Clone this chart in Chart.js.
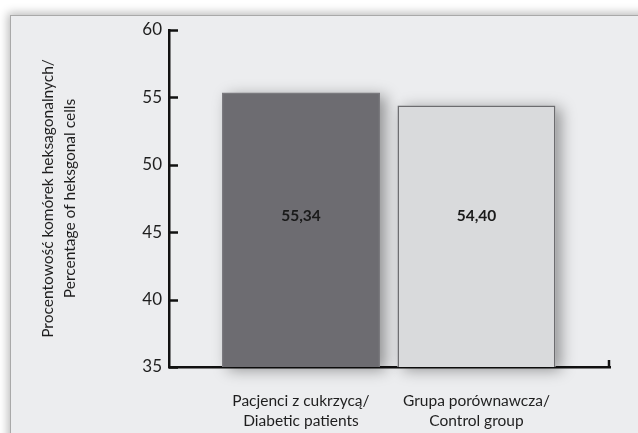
<!DOCTYPE html>
<html>
<head>
<meta charset="utf-8">
<script src="https://cdn.jsdelivr.net/npm/chart.js@4.4.1/dist/chart.umd.min.js"></script>
<style>
  html, body { margin: 0; padding: 0; background: #fff; overflow: hidden; }
  .panel {
    position: absolute; left: 10px; top: 15px; width: 660px; height: 440px;
    background: #ecedef;
    border-top: 1px solid #a9a9a9; border-left: 1px solid #a9a9a9;
    box-shadow: -2px -2px 9px rgba(0, 0, 0, 0.28);
  }
  #wrap { position: absolute; left: 0; top: 0; width: 638px; height: 433px; }
</style>
</head>
<body>
<div class="panel"></div>
<div id="wrap"><canvas id="chart"></canvas></div>
<script>
// bar data
const categories = [
  ['Pacjenci z cukrzycą/', 'Diabetic patients'],
  ['Grupa porównawcza/', 'Control group']
];
const positions = [1, 2];
const values = [55.34, 54.40];
const barColors = ['#6d6c71', '#d9dadc'];
const borderColors = ['#7b7a7f', '#6c6c6f'];
const yTicks = [35, 40, 45, 50, 55, 60];
const yTitle = ['Procentowość komórek heksagonalnych/', 'Percentage of heksgonal cells'];

const FONT = 'Lato';
const labelLevel = 46.2; // value labels sit at this height on the y axis

// soft shadows behind the bars, then inward ticks and value labels
const barDecor = {
  id: 'barDecor',
  beforeDatasetsDraw(chart) {
    const ctx = chart.ctx;
    const area = chart.chartArea;
    const meta = chart.getDatasetMeta(0);
    ctx.save();
    ctx.shadowColor = 'rgba(0,0,0,0.38)';
    ctx.shadowBlur = 14;
    ctx.shadowOffsetX = 6;
    ctx.shadowOffsetY = 3;
    meta.data.forEach((bar, i) => {
      ctx.fillStyle = barColors[i];
      const w = bar.width;
      const base = Math.min(bar.base, area.bottom);
      ctx.fillRect(bar.x - w / 2, bar.y, w, base - bar.y);
    });
    ctx.restore();

    // tick marks pointing into the plot
    const y = chart.scales.y;
    ctx.save();
    ctx.strokeStyle = '#111';
    ctx.lineWidth = 2.5;
    y.ticks.forEach(t => {
      const py = Math.round(y.getPixelForValue(t.value)) + 0.5;
      ctx.beginPath();
      ctx.moveTo(area.left, py);
      ctx.lineTo(area.left + 9, py);
      ctx.stroke();
    });
    // closing tick at the right end of the x axis
    ctx.beginPath();
    ctx.moveTo(area.right - 1, area.bottom + 1);
    ctx.lineTo(area.right - 1, area.bottom - 7);
    ctx.stroke();
    ctx.restore();
  },
  afterDatasetsDraw(chart) {
    const ctx = chart.ctx;
    const meta = chart.getDatasetMeta(0);
    const py = chart.scales.y.getPixelForValue(labelLevel);
    ctx.save();
    ctx.font = 'bold 15.5px ' + FONT;
    ctx.fillStyle = '#1a1a1a';
    ctx.textAlign = 'center';
    ctx.textBaseline = 'middle';
    meta.data.forEach((bar, i) => {
      ctx.fillText(values[i].toFixed(2).replace('.', ','), bar.x, py);
    });
    ctx.restore();
  }
};

new Chart(document.getElementById('chart'), {
  type: 'bar',
  data: {
    datasets: [{
      data: positions.map((x, i) => ({ x: x, y: values[i] })),
      backgroundColor: barColors,
      borderColor: borderColors,
      borderWidth: 1.5,
      barPercentage: 0.9,
      categoryPercentage: 1.0
    }]
  },
  options: {
    responsive: true,
    maintainAspectRatio: false,
    animation: false,
    layout: { padding: { left: 0, right: 28, top: 30, bottom: 0 } },
    plugins: {
      legend: { display: false },
      tooltip: { enabled: false }
    },
    scales: {
      x: {
        type: 'linear',
        offset: false,
        min: 0.248,
        max: 2.761,
        grid: { display: false, drawTicks: false },
        border: { color: '#111', width: 2.5 },
        afterBuildTicks: scale => { scale.ticks = positions.map(v => ({ value: v })); },
        afterFit: scale => { scale.height = 66; },
        ticks: {
          autoSkip: false,
          maxRotation: 0,
          padding: 24,
          color: '#1e1e1e',
          font: { family: FONT, size: 15.5, lineHeight: '20px' },
          callback: v => categories[positions.indexOf(v)] || ''
        }
      },
      y: {
        min: 35,
        max: 60,
        grid: { display: false, drawTicks: false },
        border: { color: '#111', width: 2.5 },
        afterBuildTicks: scale => { scale.ticks = yTicks.map(v => ({ value: v })); },
        afterFit: scale => { scale.width = 169; },
        ticks: {
          padding: 7,
          color: '#1e1e1e',
          font: { family: FONT, size: 17 }
        },
        title: {
          display: true,
          text: yTitle,
          color: '#1e1e1e',
          font: { family: FONT, size: 15.5, lineHeight: '22px' },
          padding: { top: 37, bottom: 0 }
        }
      }
    }
  },
  plugins: [barDecor]
});
</script>
</body>
</html>
